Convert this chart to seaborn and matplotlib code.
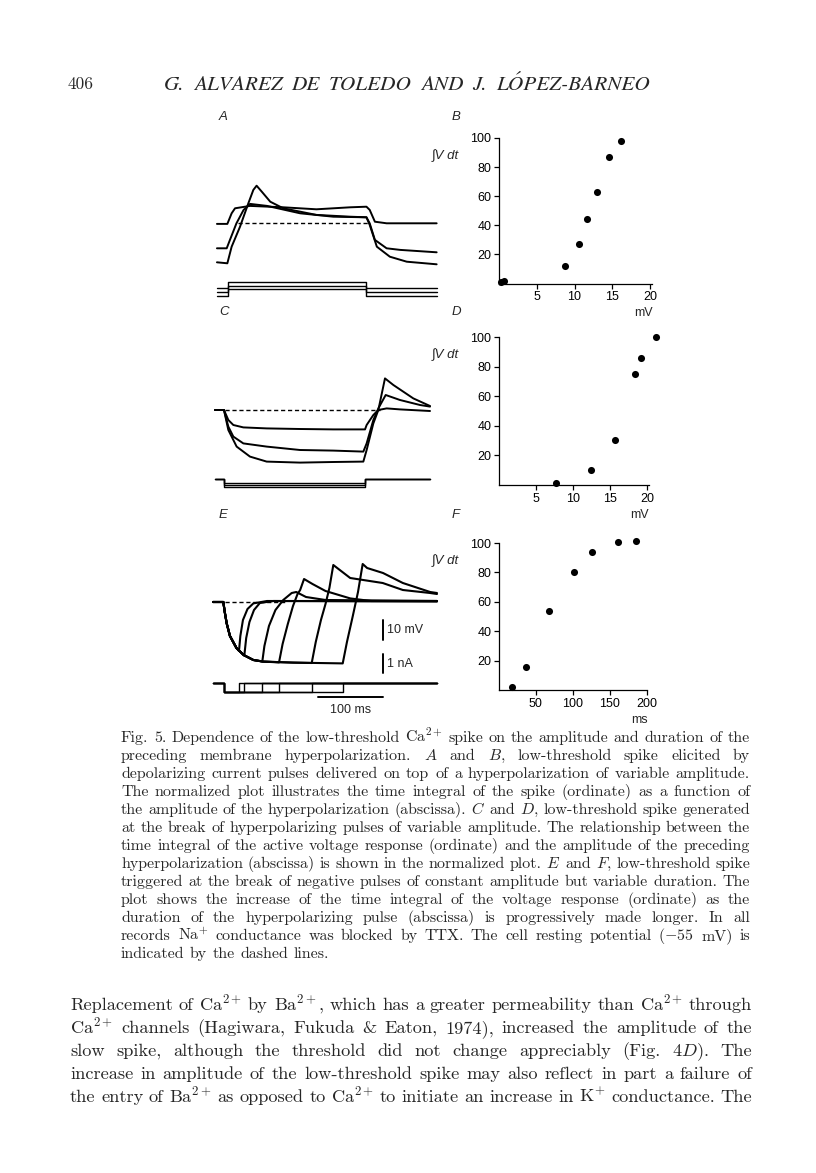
import matplotlib
matplotlib.use('Agg')
import matplotlib.pyplot as plt
import seaborn as sns

W, H = 816, 1173

# Normalised integral plots (B, D, F).
b_mv = [0.3, 0.7, 8.8, 10.6, 11.7, 13.0, 14.5, 16.2]
b_int = [1.2, 1.8, 12.1, 26.9, 44.4, 63.1, 86.6, 98.0]
d_mv = [7.7, 12.4, 15.6, 18.4, 19.2, 21.2]
d_int = [1.6, 9.9, 30.6, 74.8, 86.0, 100.0]
f_ms = [18, 37, 68, 101, 126, 161, 186]
f_int = [2.3, 15.8, 53.8, 80.2, 94.2, 100.6, 101.2]
ticks_mv = [5, 10, 15, 20]
ticks_ms = [50, 100, 150, 200]
ticks_int = [20, 40, 60, 80, 100]

# Panel A voltage records (ms, mV).
a1_t = [3, 19, 25.6, 30.8, 53.8, 105, 156, 208, 233, 238, 246, 264, 341]
a1_v = [-55.3, -55.3, -50, -47.5, -46.3, -47, -48, -47, -46.7, -48.3, -54.2, -55, -55]
a2_t = [3, 18, 23, 33, 44, 54, 80, 131, 182, 233, 238, 246, 264, 285, 341]
a2_v = [-67.5, -67.5, -63.3, -55, -48.3, -45.3, -46.3, -50, -51.7, -52, -55, -63.3, -67.5, -68.3, -69.5]
a3_t = [3, 19, 25.6, 38.5, 51.3, 59, 64, 72, 85, 105, 156, 208, 233, 238, 249, 269, 295, 341]
a3_v = [-74.5, -75, -66.7, -56.7, -45, -38.3, -36.2, -39.2, -44.2, -47.5, -50.8, -51.7, -52,
        -55.8, -66.7, -71.7, -74.2, -75.5]
# Panel A current: holding level and level during the pulse (nA).
a_i_hold = [0.0, -0.22, -0.42]
a_i_pulse = [0.35, 0.1, -0.02]
a_i_times = [3, 20.5, 233, 341]

# Panel C voltage records.
c1_t = [0, 13.8, 20.5, 28.2, 43.6, 79.5, 130.8, 182, 230.8, 233.3, 243.6, 251.3, 264.1, 284.6, 330.8]
c1_v = [-55, -55, -60, -62.5, -63.7, -64.2, -64.5, -64.7, -64.7, -62.5, -57.5, -55, -54.2, -54.7, -55.5]
c2_t = [0, 13.8, 20.5, 28.2, 43.6, 79.5, 130.8, 182, 228.2, 233.3, 243.6, 251.3, 262.6, 284.6, 315.4, 330.8]
c2_v = [-55, -55, -63.3, -68.3, -71.7, -73.3, -75, -75.3, -75.8, -71.7, -60, -54.2, -47.5, -50, -52.5, -53.3]
c3_t = [0, 13.8, 20.5, 33.3, 53.8, 79.5, 130.8, 182, 228.2, 233.3, 243.6, 251.3, 261.5, 274.4, 305.1, 330.8]
c3_v = [-55, -55, -65, -73.3, -78.3, -80.8, -81.3, -81, -80.8, -75, -61.7, -55, -39.2, -42.5, -49.2, -53]
c_i_pulse = [-0.21, -0.3, -0.42]
c_i_times = [0, 13.8, 230.8, 330.8]

# Panel E: common hyperpolarisation, then one rebound per pulse duration.
e_hyp_t = [-3, 12.8, 15, 18, 23, 33, 44, 59, 74, 120, 200]
e_hyp_v = [-55, -55, -60, -65.7, -72, -78, -81.5, -84, -84.8, -85.3, -85.7]
e_rise_t = [
    [36.9, 39, 43, 50, 59, 80, 341.5],
    [45.1, 48, 53, 60, 69, 90, 341.5],
    [72.8, 76, 83, 93, 105, 118, 125, 140, 170, 341.5],
    [98.5, 104, 112, 120, 127, 131, 137, 150, 170, 208, 240, 341.5],
    [148.8, 155, 163, 170, 176, 182, 190, 208, 258, 289, 331, 341.5],
    [196.5, 203, 212, 220, 227.2, 234, 258.5, 289, 331, 341.5],
]
e_rise_v = [
    [-79.5, -72, -64, -58.5, -55.7, -54.5, -54.5],
    [-81.8, -73, -65, -59, -55.5, -54.5, -54.8],
    [-84.7, -77, -67, -59, -54, -50.5, -50, -52.5, -54, -54.5],
    [-85.2, -76, -66, -57, -51, -49, -43.5, -46, -49.5, -53.2, -54.5, -54.5],
    [-85.5, -75, -64, -56, -48, -36.5, -38.5, -43, -45.5, -49, -50.5, -51],
    [-85.7, -75, -62, -50, -36, -38, -40.5, -45.5, -50, -50.5],
]
e_i_pulse = -0.44
e_i_on = 13.6
e_i_span = [-3, 341.5]

rest_mv = -55
bar_ms, bar_mv, bar_na = 100, 10, 1

sns.set_theme(style='ticks')
plt.rcParams['font.family'] = ['Liberation Sans', 'DejaVu Sans']
plt.rcParams['mathtext.fontset'] = 'cm'

fig = plt.figure(figsize=(W / 100, H / 100), dpi=100)
fig.patch.set_facecolor('white')

PX_MS, PX_MV, PX_NA = 0.65, 2.0, 19.0


def px_axes(x0, y0, x1, y1):
    return fig.add_axes([x0 / W, 1 - y1 / H, (x1 - x0) / W, (y1 - y0) / H])


def trace_panel(box, t0_px, rest_px, zero_px):
    x0, y0, x1, y1 = box
    xl = ((x0 - t0_px) / PX_MS, (x1 - t0_px) / PX_MS)
    axv = px_axes(*box)
    axv.set_xlim(xl)
    axv.set_ylim(rest_mv - (y1 - rest_px) / PX_MV, rest_mv + (rest_px - y0) / PX_MV)
    axi = px_axes(*box)
    axi.set_xlim(xl)
    axi.set_ylim(-(y1 - zero_px) / PX_NA, (zero_px - y0) / PX_NA)
    axv.set_axis_off()
    axi.set_axis_off()
    return axv, axi


def draw(ax, t, v, lw=1.4):
    sns.lineplot(x=t, y=v, ax=ax, color='black', linewidth=lw, estimator=None, sort=False)


def step(times, base, level):
    return [times[0], times[1], times[1], times[2], times[2], times[3]], [base, base, level, level, base, base]


# ---- A ----
axv, axi = trace_panel((205, 170, 445, 300), 215, 223.3, 288.3)
axv.hlines(rest_mv, 35, 235, color='black', lw=1.0, linestyles=(0, (3, 2)))
for t, v in [(a1_t, a1_v), (a2_t, a2_v), (a3_t, a3_v)]:
    draw(axv, t, v)
for h, p in zip(a_i_hold, a_i_pulse):
    t, i = step(a_i_times, h, p)
    draw(axi, t, i, lw=1.0)

# ---- C ----
axv, axi = trace_panel((205, 365, 445, 500), 215, 410, 479.3)
axv.hlines(rest_mv, 15, 254, color='black', lw=1.0, linestyles=(0, (3, 2)))
for t, v in [(c1_t, c1_v), (c2_t, c2_v), (c3_t, c3_v)]:
    draw(axv, t, v)
for p in c_i_pulse:
    t, i = step(c_i_times, 0, p)
    draw(axi, t, i, lw=1.0)

# ---- E ----
axv, axi = trace_panel((205, 545, 445, 725), 215, 602, 683.3)
axv.hlines(rest_mv, 15, 110, color='black', lw=1.0, linestyles=(0, (3, 2)))
for rt, rv in zip(e_rise_t, e_rise_v):
    keep = [k for k, tt in enumerate(e_hyp_t) if tt < rt[0]]
    draw(axv, [e_hyp_t[k] for k in keep] + rt, [e_hyp_v[k] for k in keep] + rv, lw=1.5)
    t, i = step([e_i_span[0], e_i_on, rt[0], e_i_span[1]], 0, e_i_pulse)
    draw(axi, t, i, lw=1.0)
# scale bars
sb_t = 259
axv.plot([sb_t, sb_t], [-64, -64 - bar_mv], color='black', lw=1.4)
axv.text(sb_t + 5, -64 - bar_mv / 2, '10 mV', fontsize=9, va='center', ha='left')
axi.plot([sb_t, sb_t], [0.54, 0.54 + bar_na], color='black', lw=1.4)
axi.text(sb_t + 5, 0.54 + bar_na / 2, '1 nA', fontsize=9, va='center', ha='left')
axi.plot([sb_t - bar_ms, sb_t], [-0.7, -0.7], color='black', lw=1.4)
axi.text(sb_t - bar_ms / 2, -1.42, '100 ms', fontsize=9, va='center', ha='center')


# ---- B, D, F ----
def integral_panel(box, x, y, xmax, xticks, unit):
    ax = px_axes(*box)
    sns.scatterplot(x=x, y=y, ax=ax, color='black', s=26, linewidth=0, clip_on=False)
    ax.set_xlim(0, xmax)
    ax.set_ylim(0, 100)
    ax.set_xticks(xticks)
    ax.set_yticks(ticks_int)
    sns.despine(ax=ax)
    for s in ('left', 'bottom'):
        ax.spines[s].set_linewidth(0.9)
        ax.spines[s].set_color('black')
    ax.tick_params(direction='out', length=3.5, width=0.9, pad=2, labelsize=9,
                   colors='black', left=True, bottom=True)
    ax.set_xlabel(unit, loc='right', fontsize=9, labelpad=3)
    ax.set_ylabel('')
    x0, y0, x1, y1 = box
    ax.text((445 - x0) / (x1 - x0), (y1 - y0 - 18) / (y1 - y0), '∫V dt', transform=ax.transAxes,
            fontsize=9.5, style='italic', ha='center', va='center')
    return ax


integral_panel((499, 138, 652.3, 283.5), b_mv, b_int, 20.3, ticks_mv, 'mV')
integral_panel((499, 337, 648.8, 485), d_mv, d_int, 20.2, ticks_mv, 'mV')
integral_panel((499, 543, 647.4, 690), f_ms, f_int, 201, ticks_ms, 'ms')

for lab, x, y in [('A', 219, 117), ('B', 452, 117), ('C', 219, 312),
                  ('D', 452, 312), ('E', 219, 515), ('F', 452, 515)]:
    fig.text(x / W, 1 - y / H, lab, fontsize=9.5, style='italic', ha='left', va='center')

# ---- page text ----
renderer = fig.canvas.get_renderer()
SERIF = ['cmr10', 'DejaVu Serif']


def put_line(line, x0, x1, y, size, family, justify=True, style='normal'):
    words = line.split(' ')
    texts = [fig.text(0, 1 - y / H, w, fontsize=size, family=family, style=style,
                      ha='left', va='baseline') for w in words]
    widths = [t.get_window_extent(renderer).width for t in texts]
    if justify and len(words) > 1:
        gap = (x1 - x0 - sum(widths)) / (len(words) - 1)
    else:
        gap = size * 100 / 72 * 0.34
    x = x0
    for t, w in zip(texts, widths):
        t.set_x(x / W)
        x += w + gap


fig.text(68 / W, 1 - 89 / H, '406', fontsize=12.5, family=SERIF, ha='left', va='baseline')
put_line('G. ALVAREZ DE TOLEDO AND J. LÓPEZ-BARNEO', 164, 650, 90, 15.3,
         ['STIXGeneral', 'DejaVu Serif'], style='italic')

caption = [
    r'Fig. 5. Dependence of the low-threshold Ca$^{2+}$ spike on the amplitude and duration of the',
    r'preceding membrane hyperpolarization. $\mathit{A}$ and $\mathit{B}$, low-threshold spike elicited by',
    r'depolarizing current pulses delivered on top of a hyperpolarization of variable amplitude.',
    r'The normalized plot illustrates the time integral of the spike (ordinate) as a function of',
    r'the amplitude of the hyperpolarization (abscissa). $\mathit{C}$ and $\mathit{D}$, low-threshold spike generated',
    r'at the break of hyperpolarizing pulses of variable amplitude. The relationship between the',
    r'time integral of the active voltage response (ordinate) and the amplitude of the preceding',
    r'hyperpolarization (abscissa) is shown in the normalized plot. $\mathit{E}$ and $\mathit{F}$, low-threshold spike',
    r'triggered at the break of negative pulses of constant amplitude but variable duration. The',
    r'plot shows the increase of the time integral of the voltage response (ordinate) as the',
    r'duration of the hyperpolarizing pulse (abscissa) is progressively made longer. In all',
    r'records Na$^{+}$ conductance was blocked by TTX. The cell resting potential ($-$55 mV) is',
    r'indicated by the dashed lines.',
]
for k, line in enumerate(caption):
    put_line(line, 121, 750, 742 + 18 * k, 11.5, SERIF, justify=k < len(caption) - 1)

body = [
    r'Replacement of Ca$^{2+}$ by Ba$^{2+}$, which has a greater permeability than Ca$^{2+}$ through',
    r'Ca$^{2+}$ channels (Hagiwara, Fukuda & Eaton, 1974), increased the amplitude of the',
    r'slow spike, although the threshold did not change appreciably (Fig. 4$\mathit{D}$). The',
    r'increase in amplitude of the low-threshold spike may also reflect in part a failure of',
    r'the entry of Ba$^{2+}$ as opposed to Ca$^{2+}$ to initiate an increase in K$^{+}$ conductance. The',
]
for k, line in enumerate(body):
    put_line(line, 70, 752, 1010 + 23 * k, 13.2, SERIF)

fig.savefig('out.png', dpi=100, facecolor='white')
